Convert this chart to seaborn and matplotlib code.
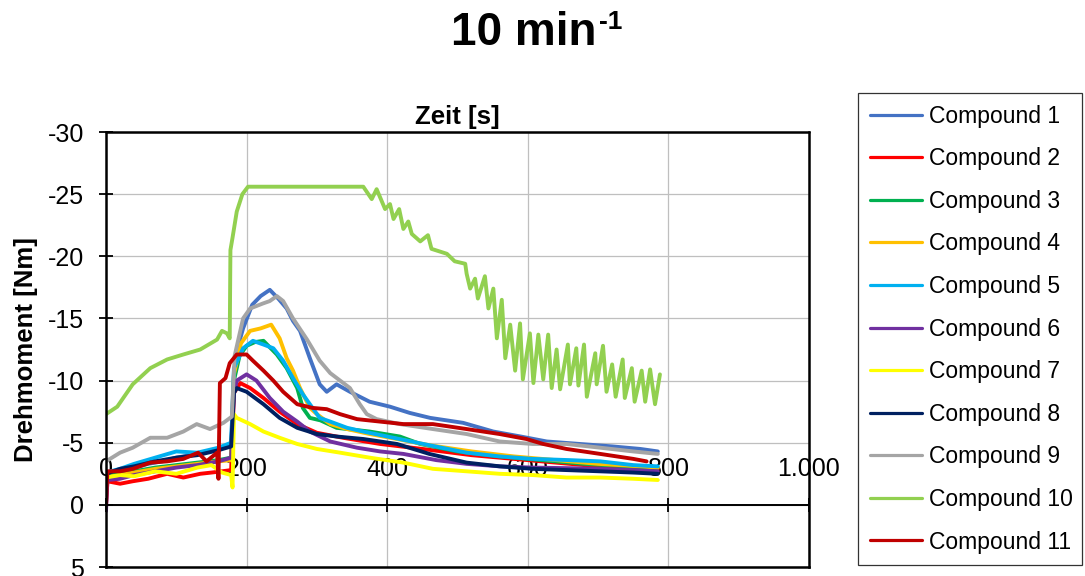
import matplotlib
matplotlib.use("Agg")
import matplotlib.pyplot as plt
import seaborn as sns
import pandas as pd

# ---------------- data ----------------
compounds = [f"Compound {i}" for i in range(1, 12)]
colors = ["#4472C4", "#FF0000", "#00B050", "#FFC000", "#00B0F0", "#7030A0",
          "#FFFF00", "#002060", "#A5A5A5", "#92D050", "#C00000"]

c1_t = [0, 20, 40, 60, 80, 100, 120, 140, 160, 178, 182, 188, 195, 208, 220, 233, 245, 257, 266, 276,
        290, 304, 314, 328, 347, 375, 404, 432, 461, 508, 551, 590, 627, 674, 721, 760, 785]
c1_m = [-2.4, -2.8, -3.0, -3.3, -3.5, -3.8, -4.0, -4.2, -4.5, -4.8, -10.5, -12.8, -14.2, -16.1, -16.8,
        -17.3, -16.6, -15.8, -14.8, -14.0, -11.8, -9.7, -9.1, -9.7, -9.1, -8.3, -7.9, -7.4, -7.0, -6.6,
        -5.9, -5.5, -5.1, -4.9, -4.7, -4.5, -4.3]

c2_t = [0, 2, 20, 38, 60, 87, 110, 134, 150, 165, 178, 182, 191, 205, 224, 247, 272, 300, 337, 390,
        450, 520, 600, 680, 760, 785]
c2_m = [0.0, -1.9, -1.7, -1.9, -2.1, -2.5, -2.2, -2.5, -2.6, -2.7, -2.8, -9.0, -9.8, -9.4, -8.6, -7.5,
        -6.5, -5.8, -5.4, -4.9, -4.5, -4.0, -3.6, -3.2, -3.0, -2.9]

c3_t = [0, 20, 40, 70, 100, 130, 160, 178, 182, 190, 200, 212, 224, 243, 257, 272, 280, 290, 305, 328,
        375, 418, 447, 500, 560, 620, 680, 740, 785]
c3_m = [-2.3, -2.6, -2.7, -3.0, -3.2, -3.4, -3.6, -3.8, -10.0, -12.0, -12.8, -13.1, -13.2, -12.1, -11.0,
        -9.4, -7.8, -7.0, -6.8, -6.2, -5.9, -5.5, -4.9, -4.3, -3.9, -3.6, -3.3, -3.1, -3.0]

c4_t = [0, 20, 40, 70, 100, 130, 160, 178, 182, 192, 205, 220, 235, 247, 257, 266, 276, 290, 300, 319,
        343, 375, 414, 460, 520, 580, 640, 700, 760, 785]
c4_m = [-2.2, -2.4, -2.6, -2.9, -3.1, -3.3, -3.5, -3.6, -10.5, -13.0, -14.0, -14.2, -14.5, -13.4, -11.8,
        -10.8, -9.4, -7.8, -7.3, -6.5, -6.1, -5.7, -5.3, -4.8, -4.3, -3.9, -3.6, -3.3, -3.1, -3.0]

c5_t = [0, 20, 40, 70, 100, 130, 160, 178, 182, 195, 209, 224, 238, 252, 266, 280, 290, 304, 319, 343,
        366, 400, 460, 513, 560, 607, 660, 703, 750, 785]
c5_m = [-2.6, -2.9, -3.3, -3.8, -4.3, -4.2, -4.6, -5.0, -11.0, -12.6, -13.2, -12.9, -12.6, -11.6, -10.2,
        -8.9, -8.1, -7.0, -6.7, -6.2, -5.9, -5.5, -4.8, -4.2, -3.9, -3.7, -3.6, -3.5, -3.2, -3.1]

c6_t = [0, 2, 20, 40, 70, 100, 130, 160, 178, 182, 186, 200, 214, 233, 252, 272, 290, 319, 357, 390,
        423, 470, 513, 560, 607, 660, 703, 750, 785]
c6_m = [0.5, -2.0, -2.1, -2.4, -2.7, -3.0, -3.2, -3.5, -3.8, -9.0, -10.0, -10.5, -10.0, -8.6, -7.5,
        -6.7, -5.9, -5.1, -4.6, -4.3, -4.1, -3.6, -3.3, -3.1, -3.0, -2.95, -2.9, -2.8, -2.7]

c7_t = [0, 20, 40, 70, 100, 130, 150, 165, 178, 180, 182, 186, 205, 224, 247, 272, 300, 333, 375, 423,
        465, 513, 560, 607, 655, 703, 750, 785]
c7_m = [-2.2, -2.4, -2.3, -2.7, -2.5, -3.0, -3.2, -2.6, -2.4, -1.4, -7.3, -7.0, -6.5, -5.9, -5.4, -4.9,
        -4.5, -4.2, -3.8, -3.4, -2.9, -2.7, -2.5, -2.4, -2.2, -2.2, -2.1, -2.0]

c8_t = [0, 20, 40, 70, 100, 130, 160, 178, 182, 186, 200, 224, 247, 272, 300, 328, 366, 414, 460, 513,
        560, 607, 655, 703, 750, 785]
c8_m = [-2.5, -2.9, -3.1, -3.5, -3.8, -4.0, -4.4, -4.7, -9.0, -9.4, -9.1, -8.1, -7.0, -6.2, -5.7, -5.5,
        -5.3, -4.9, -4.1, -3.4, -3.1, -2.9, -2.8, -2.7, -2.6, -2.5]

c9_t = [0, 20, 38, 63, 87, 110, 129, 148, 167, 179, 183, 195, 205, 223, 233, 243, 252, 266, 286, 304,
        319, 333, 347, 361, 371, 385, 418, 465, 513, 560, 607, 655, 703, 750, 785]
c9_m = [-3.5, -4.2, -4.6, -5.4, -5.4, -5.9, -6.5, -6.1, -6.6, -7.1, -12.0, -15.0, -15.8, -16.2, -16.4,
        -16.8, -16.4, -15.0, -13.3, -11.6, -10.6, -10.0, -9.4, -8.1, -7.3, -6.9, -6.5, -6.1, -5.7, -5.1,
        -4.9, -4.9, -4.6, -4.3, -4.1]

c10_t = [0, 16, 38, 63, 87, 110, 134, 158, 165, 172, 176, 177, 180, 186, 194, 202, 366, 378, 385, 397,
         404, 409, 417, 423, 430, 435, 447, 458, 463, 485, 496, 511, 513, 518, 525, 529, 539, 544, 551,
         556, 563, 568, 575, 582, 589, 593, 603, 608, 615, 622, 629, 634, 641, 646, 657, 660, 669, 672,
         680, 684, 696, 698, 707, 712, 720, 725, 735, 738, 748, 752, 762, 767, 774, 781, 788]
c10_m = [-7.3, -7.9, -9.7, -11.0, -11.7, -12.1, -12.5, -13.3, -14.0, -13.8, -13.4, -20.5, -21.5, -23.6,
         -25.0, -25.6, -25.6, -24.6, -25.4, -23.8, -24.2, -23.0, -23.8, -22.2, -22.8, -21.8, -21.2,
         -21.7, -20.6, -20.2, -19.6, -19.4, -18.6, -17.4, -18.2, -16.6, -18.4, -15.8, -17.4, -13.4,
         -16.5, -11.8, -14.5, -10.8, -14.6, -10.1, -13.8, -9.8, -13.7, -10.1, -13.7, -9.4, -12.5, -9.3,
         -12.9, -9.7, -12.6, -9.6, -12.9, -8.7, -12.2, -9.7, -12.8, -9.1, -11.3, -8.7, -11.7, -8.6,
         -11.0, -8.3, -10.8, -8.3, -10.9, -8.1, -10.5]

c11_t = [0, 2, 20, 38, 63, 87, 110, 131, 143, 158, 160, 162, 170, 176, 186, 200, 209, 224, 238, 252,
         272, 294, 314, 333, 357, 390, 423, 465, 513, 560, 598, 622, 655, 703, 750, 769]
c11_m = [0.0, -2.7, -2.7, -2.9, -3.4, -3.5, -3.7, -4.2, -3.5, -4.2, -2.1, -9.8, -10.2, -11.4, -12.1,
         -12.1, -11.6, -10.8, -10.0, -9.1, -8.1, -7.8, -7.7, -7.3, -6.9, -6.7, -6.5, -6.5, -6.1, -5.7,
         -5.3, -4.9, -4.5, -4.1, -3.7, -3.5]

x_ticks = [0, 200, 400, 600, 800, 1000]
x_tick_labels = ["0", "200", "400", "600", "800", "1.000"]
y_ticks = [-30, -25, -20, -15, -10, -5, 0, 5]
y_tick_labels = ["-30", "-25", "-20", "-15", "-10", "-5", "0", "5"]

title_main = "10 min"
title_sup = "-1"
x_label = "Zeit [s]"
y_label = "Drehmoment [Nm]"

# ---------------- assemble long table ----------------
series_t = [c1_t, c2_t, c3_t, c4_t, c5_t, c6_t, c7_t, c8_t, c9_t, c10_t, c11_t]
series_m = [c1_m, c2_m, c3_m, c4_m, c5_m, c6_m, c7_m, c8_m, c9_m, c10_m, c11_m]
rows = []
for name, ts, ms in zip(compounds, series_t, series_m):
    for t, m in zip(ts, ms):
        rows.append((name, t, m))
df = pd.DataFrame(rows, columns=["Compound", "Zeit", "Drehmoment"])

# ---------------- style ----------------
sns.set_theme(style="white")
plt.rcParams["font.family"] = ["Liberation Sans", "DejaVu Sans"]
plt.rcParams["axes.unicode_minus"] = False
plt.rcParams["text.color"] = "black"
plt.rcParams["axes.labelcolor"] = "black"
plt.rcParams["xtick.color"] = "black"
plt.rcParams["ytick.color"] = "black"

fig = plt.figure(figsize=(10.85, 5.76), dpi=100)
ax = fig.add_axes([0.0977, 0.0156, 0.6479, 0.7552])

sns.lineplot(data=df, x="Zeit", y="Drehmoment", hue="Compound", hue_order=compounds,
             palette=dict(zip(compounds, colors)), estimator=None, sort=False,
             linewidth=2.8, ax=ax)

ax.set_xlim(0, 1000)
ax.set_ylim(5, -30)

ax.grid(True, color="#BFBFBF", linewidth=0.9)
ax.set_axisbelow(True)

# x axis crosses at y = 0, labels above it
ax.xaxis.tick_top()
ax.spines["top"].set_position(("data", 0))
ax.set_xticks(x_ticks)
ax.set_xticklabels(x_tick_labels)
ax.tick_params(axis="x", direction="inout", length=10, width=1.3, pad=12,
               labelsize=18, colors="black", labelcolor="black", top=True, bottom=False)
ax.set_yticks(y_ticks)
ax.set_yticklabels(y_tick_labels)
ax.tick_params(axis="y", direction="inout", length=10, width=1.3, pad=11,
               labelsize=18, colors="black", labelcolor="black", left=True)

for side in ["left", "right", "bottom"]:
    ax.spines[side].set_color("black")
    ax.spines[side].set_linewidth(1.8)
ax.spines["top"].set_color("black")
ax.spines["top"].set_linewidth(1.4)
ax.axhline(-30, color="black", linewidth=1.8, clip_on=False, zorder=3)

ax.set_xlabel("")
ax.set_title(x_label, fontsize=18.5, fontweight="bold", pad=6, color="black")
ax.set_ylabel(y_label, fontsize=18.5, fontweight="bold", color="black")
ax.yaxis.set_label_coords(-0.097, 0.5)

main_txt = fig.text(0.4825, 1 - 33 / 576, title_main, ha="center", va="center", fontsize=33,
                    fontweight="bold", color="black")
ax.annotate(title_sup, xy=(1, 1), xycoords=main_txt, xytext=(2, 1), textcoords="offset points",
            ha="left", va="top", fontsize=19, fontweight="bold", color="black",
            annotation_clip=False)

handles, labels = ax.get_legend_handles_labels()
ax.get_legend().remove()
for h in handles:
    h.set_linewidth(2.3)
leg = fig.legend(handles, labels, loc="center", bbox_to_anchor=(0.791, 0.019, 0.206, 0.8195),
                 mode="expand", fontsize=16.5, frameon=True, fancybox=False, shadow=False,
                 handlelength=2.3, handletextpad=0.3, labelspacing=0.855, borderpad=0.5,
                 borderaxespad=0)
leg.get_frame().set_edgecolor("black")
leg.get_frame().set_linewidth(0.9)
for txt in leg.get_texts():
    txt.set_color("black")

fig.savefig("out.png", dpi=100)
